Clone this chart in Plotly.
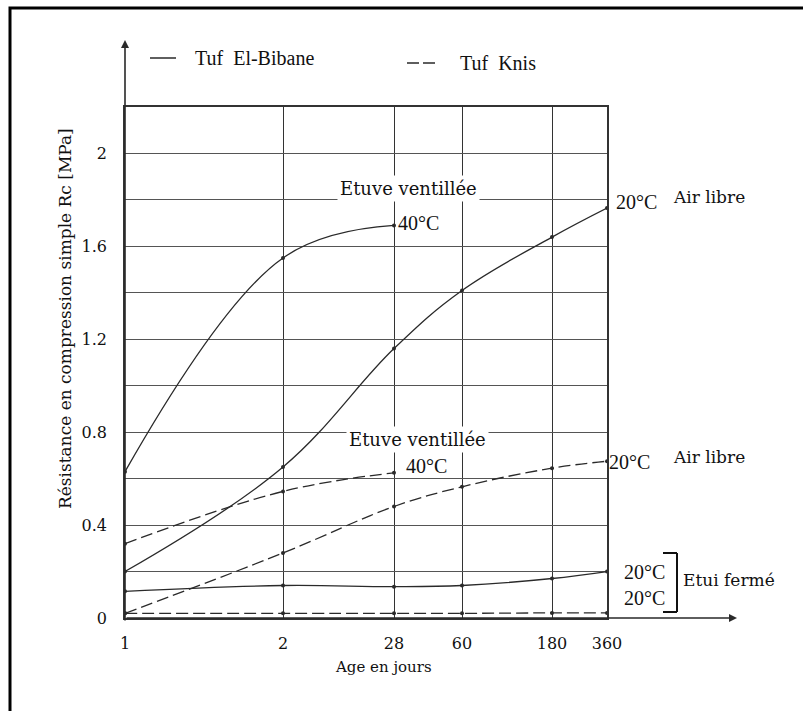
import plotly.graph_objects as go

# ---------------- data ----------------
age_labels = ["1", "2", "28", "60", "180", "360"]
# hand-drawn, non-uniform spacing of the original age axis (axis units)
age_axis_scale = [0.0, 1.58, 2.69, 3.37, 4.27, 4.82]

y_tick_vals = [0.0, 0.2, 0.4, 0.6, 0.8, 1.0, 1.2, 1.4, 1.6, 1.8, 2.0, 2.2]
y_tick_text = ["0", "", "0.4", "", "0.8", "", "1.2", "", "1.6", "", "2", ""]

# Tuf El-Bibane (solid)
bibane_etuve_40 = [0.63, 1.55, 1.69]                      # ages 1, 2, 28
bibane_air_20 = [0.20, 0.65, 1.16, 1.41, 1.64, 1.765]      # ages 1..360
bibane_etui_20 = [0.115, 0.14, 0.135, 0.14, 0.17, 0.20]

# Tuf Knis (dashed)
knis_etuve_40 = [0.32, 0.545, 0.625]
knis_air_20 = [0.02, 0.28, 0.48, 0.565, 0.645, 0.675]
knis_etui_20 = [0.02, 0.02, 0.02, 0.02, 0.022, 0.022]

# ---------------- layout geometry ----------------
W, H = 803, 711
L, R, T, B = 125, 607, 107, 618     # plot box in pixels


def px2x(px):
    return (px - L) / (R - L)


def py2y(py):
    return (B - py) / (B - T)


SERIF_T = "Liberation Serif"
SERIF_C = "DejaVu Serif"
INK = "#2a2a2a"
DASH = "12px,5px"

fig = go.Figure()


def add_curve(yvals, dashed):
    xs = age_axis_scale[:len(yvals)]
    fig.add_trace(go.Scatter(
        x=xs, y=yvals, mode="lines+markers",
        line=dict(color=INK, width=1.3, shape="spline", smoothing=1.1,
                  dash=DASH if dashed else "solid"),
        marker=dict(size=4, color=INK),
        showlegend=False, hoverinfo="skip", cliponaxis=False))


add_curve(bibane_etuve_40, False)
add_curve(bibane_air_20, False)
add_curve(bibane_etui_20, False)
add_curve(knis_etuve_40, True)
add_curve(knis_air_20, True)
add_curve(knis_etui_20, True)

annotations = []


def txt(text, px, py, size, font=SERIF_T, xanchor="left", bg=None):
    a = dict(text=text, x=px2x(px), y=py2y(py), xref="paper", yref="paper",
             xanchor=xanchor, yanchor="middle", showarrow=False,
             font=dict(family=font, size=size, color="#111"))
    if bg:
        a["bgcolor"] = bg
        a["borderpad"] = 2
    annotations.append(a)


# legend texts
txt("Tuf\u00a0 El-Bibane", 193, 58, 20)
txt("Tuf\u00a0 Knis", 458, 63, 20)

# curve labels
txt("Etuve ventillée", 408, 188, 18, SERIF_C, "center", "white")
txt("40°C", 396, 223, 20)
txt("20°C", 614, 202, 20)
txt("Air libre", 671, 197, 17, SERIF_C)

txt("Etuve ventillée", 417, 439, 18, SERIF_C, "center", "white")
txt("40°C", 404, 466, 20)
txt("20°C", 607, 462, 20)
txt("Air libre", 671, 457, 17, SERIF_C)

txt("20°C", 622, 572, 20)
txt("20°C", 622, 598, 20)
txt("Etui fermé", 681, 580, 17, SERIF_C)

# axis titles
txt("Age en jours", 383, 667, 15, SERIF_C, "center")
annotations.append(dict(
    text="Résistance en compression simple Rc [MPa]", textangle=-90,
    x=px2x(65), y=py2y(319), xref="paper", yref="paper",
    xanchor="center", yanchor="middle", showarrow=False,
    font=dict(family=SERIF_C, size=17, color="#111")))

# axis arrows
annotations.append(dict(text="", x=px2x(L), y=py2y(40), xref="paper", yref="paper",
                        ax=0, ay=582, showarrow=True, arrowhead=2, arrowsize=1,
                        arrowwidth=1.6, arrowcolor=INK))
annotations.append(dict(text="", x=px2x(737), y=py2y(B), xref="paper", yref="paper",
                        ax=-612, ay=0, showarrow=True, arrowhead=2, arrowsize=1,
                        arrowwidth=1.6, arrowcolor=INK))

shapes = []
# legend line samples
shapes.append(dict(type="line", xref="paper", yref="paper",
                   x0=px2x(150), x1=px2x(176), y0=py2y(58), y1=py2y(58),
                   line=dict(color=INK, width=1.5)))
shapes.append(dict(type="line", xref="paper", yref="paper",
                   x0=px2x(407), x1=px2x(438), y0=py2y(63), y1=py2y(63),
                   line=dict(color=INK, width=1.3, dash="12px,4px")))
# bracket for "Etui fermé"
for (x0, y0, x1, y1) in [(663, 553, 677, 553), (677, 553, 677, 612), (663, 612, 677, 612)]:
    shapes.append(dict(type="line", xref="paper", yref="paper",
                       x0=px2x(x0), x1=px2x(x1), y0=py2y(y0), y1=py2y(y1),
                       line=dict(color="#111", width=2)))
# outer frame
shapes.append(dict(type="rect", xref="paper", yref="paper",
                   x0=px2x(10), x1=px2x(812), y0=py2y(8), y1=py2y(720),
                   line=dict(color="#000", width=3), fillcolor="rgba(0,0,0,0)"))

fig.update_layout(
    width=W, height=H, autosize=False,
    margin=dict(l=L, r=W - R, t=T, b=H - B, pad=0),
    paper_bgcolor="white", plot_bgcolor="white",
    showlegend=False,
    annotations=annotations, shapes=shapes,
    xaxis=dict(range=[age_axis_scale[0], age_axis_scale[-1]],
               tickvals=age_axis_scale, ticktext=age_labels,
               showgrid=True, gridcolor="#333", gridwidth=1.3,
               showline=True, mirror=True, linecolor="#333", linewidth=1.5,
               zeroline=False, ticks="", ticklabelstandoff=10,
               tickfont=dict(family=SERIF_C, size=16, color="#111")),
    yaxis=dict(range=[0, 2.2], tickvals=y_tick_vals, ticktext=y_tick_text,
               showgrid=True, gridcolor="#555", gridwidth=1,
               showline=True, mirror=True, linecolor="#333", linewidth=1.5,
               zeroline=False, ticks="", ticklabelstandoff=13,
               tickfont=dict(family=SERIF_C, size=16, color="#111")),
)

fig.write_html("out.html", config={"displayModeBar": False})
